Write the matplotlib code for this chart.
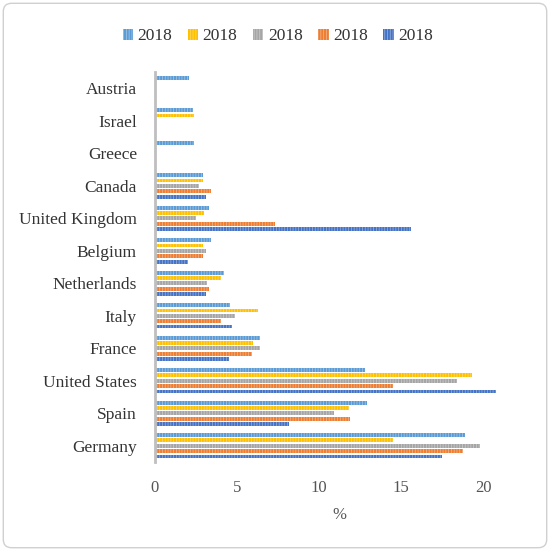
import matplotlib
matplotlib.use("Agg")
import matplotlib.pyplot as plt
from matplotlib.patches import FancyBboxPatch
import numpy as np

# countries from bottom to top
countries = ["Germany", "Spain", "United States", "France", "Italy", "Netherlands",
             "Belgium", "United Kingdom", "Canada", "Greece", "Israel", "Austria"]

# five series, all labelled 2018 in the original
s1 = [18.9, 12.9, 12.8, 6.4, 4.6, 4.2, 3.4, 3.3, 2.9, 2.4, 2.3, 2.1]
s2 = [14.5, 11.8, 19.3, 6.0, 6.3, 4.0, 2.9, 3.0, 2.9, None, 2.4, None]
s3 = [19.8, 10.9, 18.4, 6.4, 4.9, 3.2, 3.1, 2.5, 2.7, None, None, None]
s4 = [18.8, 11.9, 14.5, 5.9, 4.0, 3.3, 2.9, 7.3, 3.4, None, None, None]
s5 = [17.5, 8.2, 20.8, 4.5, 4.7, 3.1, 2.0, 15.6, 3.1, None, None, None]
series = [s1, s2, s3, s4, s5]
labels = ["2018"] * 5
colors = ["#5B9BD5", "#FFC000", "#A5A5A5", "#ED7D31", "#4472C4"]
hatch_col = ["#9CC3E6", "#FFD966", "#C9C9C9", "#F4B183", "#8FAADC"]

plt.rcParams['font.family'] = ['Liberation Serif', 'DejaVu Serif']
plt.rcParams['hatch.linewidth'] = 0.6

fig = plt.figure(figsize=(5.5, 5.51), dpi=100)
ax = fig.add_axes([0.2818, 0.1615, 0.671, 0.7075])

step = 0.165
h = 0.12
y = np.arange(len(countries))
for k, vals in enumerate(series):
    off = (2 - k) * step
    yy = [y[i] + off for i, v in enumerate(vals) if v is not None]
    ww = [v for v in vals if v is not None]
    ax.barh(yy, ww, height=h, color=colors[k], edgecolor=hatch_col[k],
            hatch='||||||', linewidth=0)

ax.set_xlim(0, 22.5)
ax.set_ylim(-0.5, 11.5)
ax.set_yticks(y)
ax.set_yticklabels(countries, fontsize=12.5, color="#333333")
ax.set_xticks([0, 5, 10, 15, 20])
ax.tick_params(axis='x', labelsize=12, colors="#555555", length=0, pad=13)
ax.tick_params(axis='y', length=0, pad=13)
for s in ["top", "right", "bottom"]:
    ax.spines[s].set_visible(False)
ax.spines["left"].set_color("#BFBFBF")
ax.spines["left"].set_linewidth(2)
ax.set_xlabel("%", fontsize=12, color="#555555", labelpad=8)

handles = [plt.Rectangle((0, 0), 1, 1, facecolor=colors[k], edgecolor=hatch_col[k],
                         hatch='||||||', linewidth=0) for k in range(5)]
fig.legend(handles, labels, loc="center", bbox_to_anchor=(0.505, 0.934), ncol=5,
           frameon=False, fontsize=12.5, handlelength=0.6, handleheight=0.6,
           handletextpad=0.25, columnspacing=0.9, labelcolor="#333333")

frame = FancyBboxPatch((0.006, 0.006), 0.988, 0.988, boxstyle="round,pad=0,rounding_size=0.015",
                       transform=fig.transFigure, facecolor="none", edgecolor="#D0D0D0",
                       linewidth=1)
fig.patches.append(frame)

fig.savefig("out.png", dpi=100)
